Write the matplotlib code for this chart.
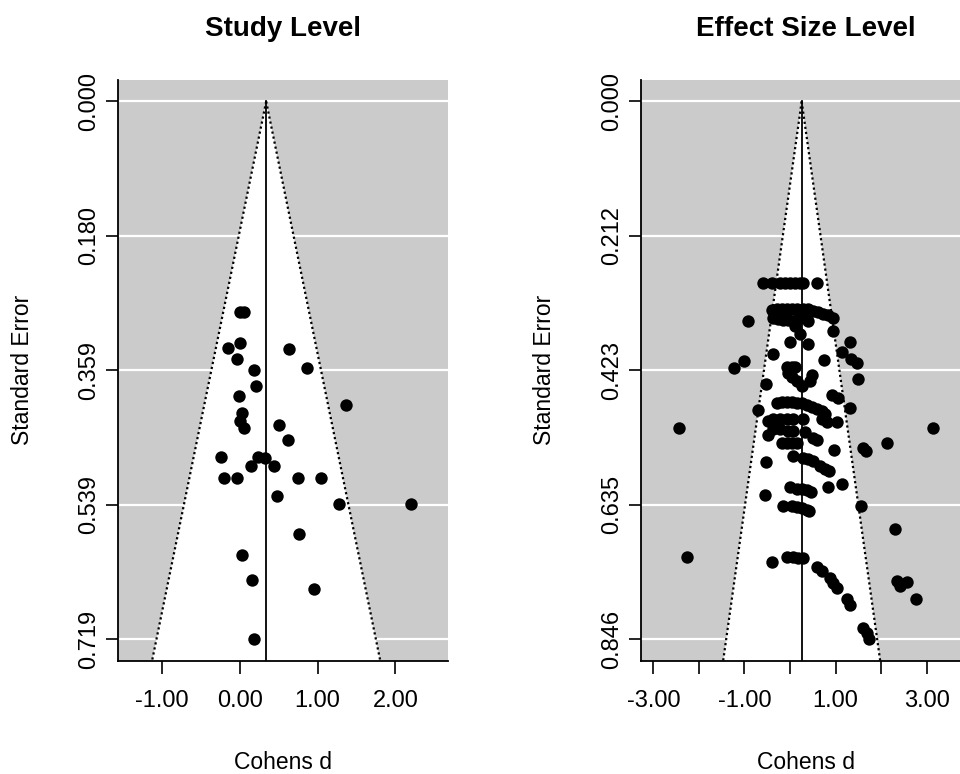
import numpy as np
import matplotlib.pyplot as plt

plt.rcParams['font.family'] = ['Liberation Sans', 'DejaVu Sans']

# ---- Study level (Cohens d, standard error) ----
study_d = [0.01, 0.05, 0.01, -0.15, 0.63, -0.03, 0.18, 0.86, 0.21, -0.01,
           1.36, 0.03, 0.01, 0.06, 0.50, 0.62, -0.24, 0.23, 0.33, 0.14,
           0.44, -0.20, -0.04, 0.75, 1.05, 0.48, 1.27, 2.20, 0.76, 0.03,
           0.16, 0.95, 0.19]
study_se = [0.282, 0.282, 0.323, 0.330, 0.331, 0.344, 0.359, 0.357, 0.380, 0.394,
            0.406, 0.417, 0.427, 0.437, 0.433, 0.453, 0.475, 0.475, 0.477, 0.487,
            0.487, 0.503, 0.503, 0.503, 0.503, 0.527, 0.538, 0.538, 0.578, 0.607,
            0.640, 0.652, 0.719]
study_est = 0.34
study_se_max = 0.719
study_xlim = (-1.56, 2.68)
study_xticks = [-1, 0, 1, 2]
study_xlabels = ['-1.00', '0.00', '1.00', '2.00']
study_yticks = [0.0, 0.17975, 0.3595, 0.53925, 0.719]
study_ylabels = ['0.000', '0.180', '0.359', '0.539', '0.719']

# ---- Effect size level ----
es_d = [-0.59, -0.40, -0.22, -0.11, 0.00, 0.11, 0.22, 0.29, 0.59,
        -0.40, -0.29, -0.18, -0.07, 0.04, 0.15, 0.29, 0.40, 0.51, 0.62, 0.73, 0.84, 0.94,
        -0.37, -0.26, -0.15, -0.04, 0.07, 0.18, 0.40, -0.33, -0.11, 0.26,
        0.11, -0.92, 0.94, 0.22, 0.00, 0.40, 1.32, 1.14, -0.38, -1.01, 0.75, 1.33, 1.47, -1.23,
        -0.07, 0.04, 0.11, -0.04, 0.04, 0.15, 0.26, 0.48, 0.44, -0.53, 1.50, 0.92, 1.06, 1.32, -0.70,
        -0.29, -0.18, -0.07, 0.04, 0.15, 0.26, 0.37, 0.48, 0.59, 0.70, 0.77, 0.70, 0.81, 1.04,
        -0.48, -0.37, -0.22, -0.07, 0.07, 0.29, -0.37, -0.22, -0.04, 0.07, -0.48, 0.33, 0.51, 0.59,
        -2.43, 3.13, 2.13, 1.61, 1.67,
        -0.18, -0.07, 0.04, 0.15, 0.97, 0.06, 0.29, 0.40, 0.51, -0.53, 0.66, 0.77, 0.86,
        0.84, 1.14, -0.55, 0.00, 0.15, 0.26, 0.37, 0.45,
        -0.16, 0.04, 0.15, 0.26, 0.37, 0.42, 1.55, 2.31,
        -2.27, -0.39, -0.07, 0.07, 0.18, 0.29,
        0.59, 0.70, 0.88, 0.95, 1.04, 1.26, 1.32,
        2.34, 2.42, 2.56, 2.76,
        1.60, 1.69, 1.74]
es_se = [0.285, 0.285, 0.285, 0.285, 0.285, 0.285, 0.285, 0.285, 0.285,
         0.328, 0.326, 0.326, 0.326, 0.326, 0.326, 0.326, 0.327, 0.329, 0.331, 0.334, 0.336, 0.340,
         0.340, 0.342, 0.344, 0.344, 0.345, 0.342, 0.345, 0.335, 0.337, 0.338,
         0.354, 0.345, 0.361, 0.366, 0.378, 0.381, 0.378, 0.394, 0.398, 0.408, 0.406, 0.405, 0.411, 0.420,
         0.417, 0.417, 0.417, 0.428, 0.434, 0.440, 0.448, 0.431, 0.440, 0.444, 0.437, 0.462, 0.466, 0.483, 0.486,
         0.474, 0.473, 0.473, 0.473, 0.474, 0.475, 0.478, 0.480, 0.484, 0.487, 0.492, 0.500, 0.505, 0.504,
         0.503, 0.500, 0.499, 0.499, 0.499, 0.499, 0.516, 0.516, 0.519, 0.519, 0.524, 0.520, 0.529, 0.532,
         0.513, 0.513, 0.537, 0.546, 0.550,
         0.537, 0.537, 0.537, 0.537, 0.549, 0.558, 0.561, 0.563, 0.566, 0.567, 0.573, 0.578, 0.582,
         0.607, 0.602, 0.619, 0.607, 0.610, 0.610, 0.612, 0.614,
         0.637, 0.637, 0.638, 0.640, 0.642, 0.645, 0.637, 0.672,
         0.716, 0.724, 0.717, 0.717, 0.719, 0.719,
         0.732, 0.738, 0.750, 0.757, 0.765, 0.783, 0.792,
         0.754, 0.763, 0.756, 0.783,
         0.829, 0.837, 0.846]
es_est = 0.256
es_se_max = 0.846
es_xlim = (-3.28, 3.97)
es_xticks = [-3, -2, -1, 0, 1, 2, 3]
es_xlabels = ['-3.00', '', '-1.00', '', '1.00', '', '3.00']
es_yticks = [0.0, 0.2115, 0.423, 0.6345, 0.846]
es_ylabels = ['0.000', '0.212', '0.423', '0.635', '0.846']


def funnel(ax, d, se, est, se_max, xlim, xticks, xlabels, yticks, ylabels, title):
    ybot = se_max * 1.04
    ax.set_xlim(xlim)
    ax.set_ylim(ybot, -se_max * 0.04)
    ax.set_facecolor('#cbcbcb')

    # white funnel region + dotted pseudo confidence limits
    ax.fill([est, est - 1.96 * ybot, est + 1.96 * ybot], [0, ybot, ybot],
            color='white', lw=0, zorder=1)
    for y in yticks:
        ax.axhline(y, color='white', lw=1.6, zorder=1.5)
    ax.plot([est, est - 1.96 * ybot], [0, ybot], color='black', ls=(0, (1, 1.3)), lw=1.6, zorder=2)
    ax.plot([est, est + 1.96 * ybot], [0, ybot], color='black', ls=(0, (1, 1.3)), lw=1.6, zorder=2)
    ax.plot([est, est], [0, ybot], color='black', lw=1.3, zorder=2)

    ax.scatter(d, se, s=80, c='black', linewidths=0, zorder=3, clip_on=False)

    for s in ['top', 'right']:
        ax.spines[s].set_visible(False)
    for s in ['left', 'bottom']:
        ax.spines[s].set_linewidth(1.3)

    ax.set_xticks(xticks, xlabels)
    ax.set_yticks(yticks, ylabels, rotation=90, va='center')
    ax.tick_params(axis='both', length=9, width=1.2, labelsize=17, colors='black')
    ax.tick_params(axis='x', pad=12)
    ax.tick_params(axis='y', pad=4)

    ax.text(0.5, 1.088, title, transform=ax.transAxes, ha='center', va='center',
            fontsize=20, fontweight='bold')
    ax.text(0.5, -0.186, 'Cohens d', transform=ax.transAxes, ha='center', va='baseline',
            fontsize=16.5)
    ax.text(-0.29, 0.5, 'Standard Error', transform=ax.transAxes, ha='center', va='center',
            rotation=90, fontsize=16.5)


fig = plt.figure(figsize=(9.6, 7.74), dpi=100)
ax1 = fig.add_axes([0.1232, 0.1464, 0.3438, 0.7503])
ax2 = fig.add_axes([0.6674, 0.1464, 0.3438, 0.7503])

funnel(ax1, study_d, study_se, study_est, study_se_max, study_xlim,
       study_xticks, study_xlabels, study_yticks, study_ylabels, 'Study Level')
funnel(ax2, es_d, es_se, es_est, es_se_max, es_xlim,
       es_xticks, es_xlabels, es_yticks, es_ylabels, 'Effect Size Level')

fig.savefig('out.png', dpi=100)
